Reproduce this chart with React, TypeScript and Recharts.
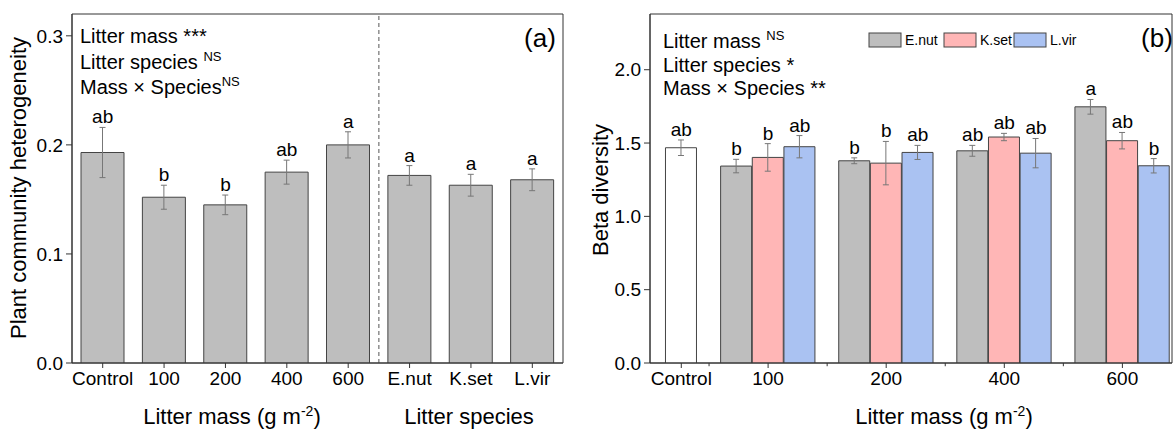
import React from 'react'
import {
  ComposedChart,
  Bar,
  Cell,
  ErrorBar,
  XAxis,
  YAxis,
  Scatter,
  ReferenceLine,
  ReferenceArea,
} from 'recharts'

const FONT = '"Liberation Sans", Arial, Helvetica, sans-serif'

// panel (a): plant community heterogeneity
const heteroLabels = ['Control', '100', '200', '400', '600', 'E.nut', 'K.set', 'L.vir']
const heteroMean = [0.193, 0.152, 0.145, 0.175, 0.2, 0.172, 0.163, 0.168]
const heteroSe = [0.023, 0.011, 0.009, 0.011, 0.012, 0.009, 0.01, 0.01]
const heteroLetters = ['ab', 'b', 'b', 'ab', 'a', 'a', 'a', 'a']

// panel (b): beta diversity
const massLabels = ['100', '200', '400', '600']
const speciesNames = ['E.nut', 'K.set', 'L.vir']
const controlMean = 1.468
const controlSe = 0.053
const controlLetter = 'ab'
const enutMean = [1.343, 1.379, 1.447, 1.747]
const enutSe = [0.046, 0.02, 0.037, 0.05]
const ksetMean = [1.402, 1.363, 1.541, 1.516]
const ksetSe = [0.094, 0.148, 0.025, 0.056]
const lvirMean = [1.475, 1.436, 1.431, 1.345]
const lvirSe = [0.076, 0.048, 0.1, 0.049]
const enutLetters = ['b', 'b', 'ab', 'a']
const ksetLetters = ['b', 'b', 'ab', 'ab']
const lvirLetters = ['ab', 'ab', 'ab', 'b']

const speciesColors = ['#BEBEBE', '#FFB6B6', '#AAC2F2']
const BAR_STROKE = '#444'
const AXIS = '#333'
const ERR = '#777'

// layout of panel (b) x axis (numeric positions)
const CONTROL_POS = 0.265
const GROUP_BAR = 0.268
const B_DOMAIN: [number, number] = [0, 4.42]

const rowsA = heteroLabels.map((label, i) => ({
  pos: i,
  label,
  value: heteroMean[i],
  se: heteroSe[i],
  top: heteroMean[i] + heteroSe[i],
  letter: heteroLetters[i],
}))

const meansB = [enutMean, ksetMean, lvirMean]
const seB = [enutSe, ksetSe, lvirSe]
const lettersB = [enutLetters, ksetLetters, lvirLetters]

const rowsB = [
  {
    pos: CONTROL_POS,
    value: controlMean,
    se: controlSe,
    top: controlMean + controlSe,
    letter: controlLetter,
    fill: '#FFFFFF',
  },
  ...massLabels.flatMap((_, i) =>
    speciesNames.map((_, j) => ({
      pos: i + 1 + (j - 1) * GROUP_BAR,
      value: meansB[j][i],
      se: seB[j][i],
      top: meansB[j][i] + seB[j][i],
      letter: lettersB[j][i],
      fill: speciesColors[j],
    }))
  ),
]

const tickStyle = { fontSize: 19, fill: '#000', fontFamily: FONT }

const letterShape = (props: any) => (
  <text
    x={props.cx}
    y={props.cy - 4}
    textAnchor="middle"
    fontSize={19}
    fontFamily={FONT}
    fill="#000"
  >
    {props.payload.letter}
  </text>
)

function PanelA() {
  return (
    <ComposedChart
      width={580}
      height={431}
      data={rowsA}
      margin={{ top: 14, right: 17, bottom: 38, left: 12 }}
    >
      <XAxis
        dataKey="pos"
        type="number"
        domain={[-0.5, 7.5]}
        ticks={rowsA.map((r) => r.pos)}
        tickFormatter={(v) => heteroLabels[v]}
        height={30}
        tick={tickStyle}
        tickSize={5}
        tickMargin={4}
        axisLine={{ stroke: AXIS }}
        tickLine={{ stroke: AXIS }}
        allowDataOverflow
        interval={0}
      />
      <YAxis
        type="number"
        domain={[0, 0.32]}
        ticks={[0, 0.1, 0.2, 0.3]}
        tickFormatter={(v) => v.toFixed(1)}
        width={60}
        tick={tickStyle}
        tickSize={6}
        tickMargin={3}
        axisLine={{ stroke: AXIS }}
        tickLine={{ stroke: AXIS }}
        allowDataOverflow
      />
      <ReferenceArea x1={-0.5} x2={7.5} y1={0} y2={0.32} fill="none" stroke={AXIS} strokeWidth={1} />
      <ReferenceLine x={4.5} stroke="#555" strokeDasharray="4 3" />
      <Bar
        dataKey="value"
        barSize={43}
        fill="#BEBEBE"
        stroke={BAR_STROKE}
        strokeWidth={1}
        isAnimationActive={false}
      >
        <ErrorBar dataKey="se" width={3} stroke={ERR} strokeWidth={1} direction="y" />
      </Bar>
      <Scatter data={rowsA} dataKey="top" shape={letterShape} isAnimationActive={false} />
    </ComposedChart>
  )
}

function PanelB() {
  return (
    <ComposedChart
      width={584}
      height={431}
      data={rowsB}
      margin={{ top: 14, right: 2, bottom: 38, left: 0 }}
    >
      <XAxis
        dataKey="pos"
        type="number"
        domain={B_DOMAIN}
        ticks={[CONTROL_POS, 1, 2, 3, 4]}
        tickFormatter={(v) => (v < 1 ? 'Control' : massLabels[v - 1])}
        height={30}
        tick={tickStyle}
        tickSize={5}
        tickMargin={4}
        axisLine={{ stroke: AXIS }}
        tickLine={{ stroke: AXIS }}
        allowDataOverflow
        interval={0}
      />
      <YAxis
        type="number"
        domain={[0, 2.38]}
        ticks={[0, 0.5, 1, 1.5, 2]}
        tickFormatter={(v) => v.toFixed(1)}
        width={60}
        tick={tickStyle}
        tickSize={6}
        tickMargin={3}
        axisLine={{ stroke: AXIS }}
        tickLine={{ stroke: AXIS }}
        allowDataOverflow
      />
      <ReferenceArea x1={B_DOMAIN[0]} x2={B_DOMAIN[1]} y1={0} y2={2.38} fill="none" stroke={AXIS} strokeWidth={1} />
      {[0.5, 1.5, 2.5, 3.5].map((m) => (
        <ReferenceLine
          key={m}
          segment={[
            { x: m, y: 0 },
            { x: m, y: -0.022 },
          ]}
          stroke={AXIS}
          ifOverflow="visible"
        />
      ))}
      <Bar
        dataKey="value"
        barSize={31}
        stroke={BAR_STROKE}
        strokeWidth={1}
        isAnimationActive={false}
      >
        {rowsB.map((r, i) => (
          <Cell key={i} fill={r.fill} />
        ))}
        <ErrorBar dataKey="se" width={3} stroke={ERR} strokeWidth={1} direction="y" />
      </Bar>
      <Scatter data={rowsB} dataKey="top" shape={letterShape} isAnimationActive={false} />
    </ComposedChart>
  )
}

function Overlay() {
  const t = { fontFamily: FONT, fill: '#000' }
  return (
    <svg
      width={1174}
      height={431}
      style={{ position: 'absolute', left: 0, top: 0, pointerEvents: 'none' }}
    >
      {/* panel (a) texts */}
      <g {...t} fontSize={20}>
        <text x={80} y={43}>Litter mass ***</text>
        <text x={80} y={69}>
          Litter species <tspan dy={-8} fontSize={13}>NS</tspan>
        </text>
        <text x={80} y={94}>
          Mass × Species<tspan dy={-8} fontSize={13}>NS</tspan>
        </text>
      </g>
      <text {...t} x={540} y={47} fontSize={26} textAnchor="middle">(a)</text>
      <text {...t} x={26} y={188} fontSize={22} textAnchor="middle" transform="rotate(-90 26 188)">
        Plant community heterogeneity
      </text>
      <text {...t} x={232} y={424} fontSize={22} textAnchor="middle">
        Litter mass (g m<tspan dy={-8} fontSize={14}>-2</tspan><tspan dy={8}>)</tspan>
      </text>
      <text {...t} x={469} y={424} fontSize={22} textAnchor="middle">Litter species</text>

      {/* panel (b) texts */}
      <g {...t} fontSize={20}>
        <text x={663} y={48}>
          Litter mass <tspan dy={-8} fontSize={13}>NS</tspan>
        </text>
        <text x={663} y={72}>Litter species *</text>
        <text x={663} y={95}>Mass × Species **</text>
      </g>
      <text {...t} x={1157} y={47} fontSize={26} textAnchor="middle">(b)</text>
      <text {...t} x={608} y={190} fontSize={22} textAnchor="middle" transform="rotate(-90 608 190)">
        Beta diversity
      </text>
      <text {...t} x={944} y={424} fontSize={22} textAnchor="middle">
        Litter mass (g m<tspan dy={-8} fontSize={14}>-2</tspan><tspan dy={8}>)</tspan>
      </text>

      {/* legend */}
      {speciesNames.map((s, i) => {
        const x0 = [869, 944, 1014][i]
        return (
          <g key={s}>
            <rect x={x0} y={33} width={32} height={14} fill={speciesColors[i]} stroke={BAR_STROKE} />
            <text {...t} x={x0 + 36} y={45} fontSize={14}>{s}</text>
          </g>
        )
      })}
    </svg>
  )
}

export default function App() {
  return (
    <div
      style={{
        position: 'absolute',
        left: 0,
        top: 0,
        width: 1174,
        height: 431,
        background: '#fff',
        fontFamily: FONT,
      }}
    >
      <div style={{ position: 'absolute', left: 0, top: 0 }}>
        <PanelA />
      </div>
      <div style={{ position: 'absolute', left: 590, top: 0 }}>
        <PanelB />
      </div>
      <Overlay />
    </div>
  )
}
